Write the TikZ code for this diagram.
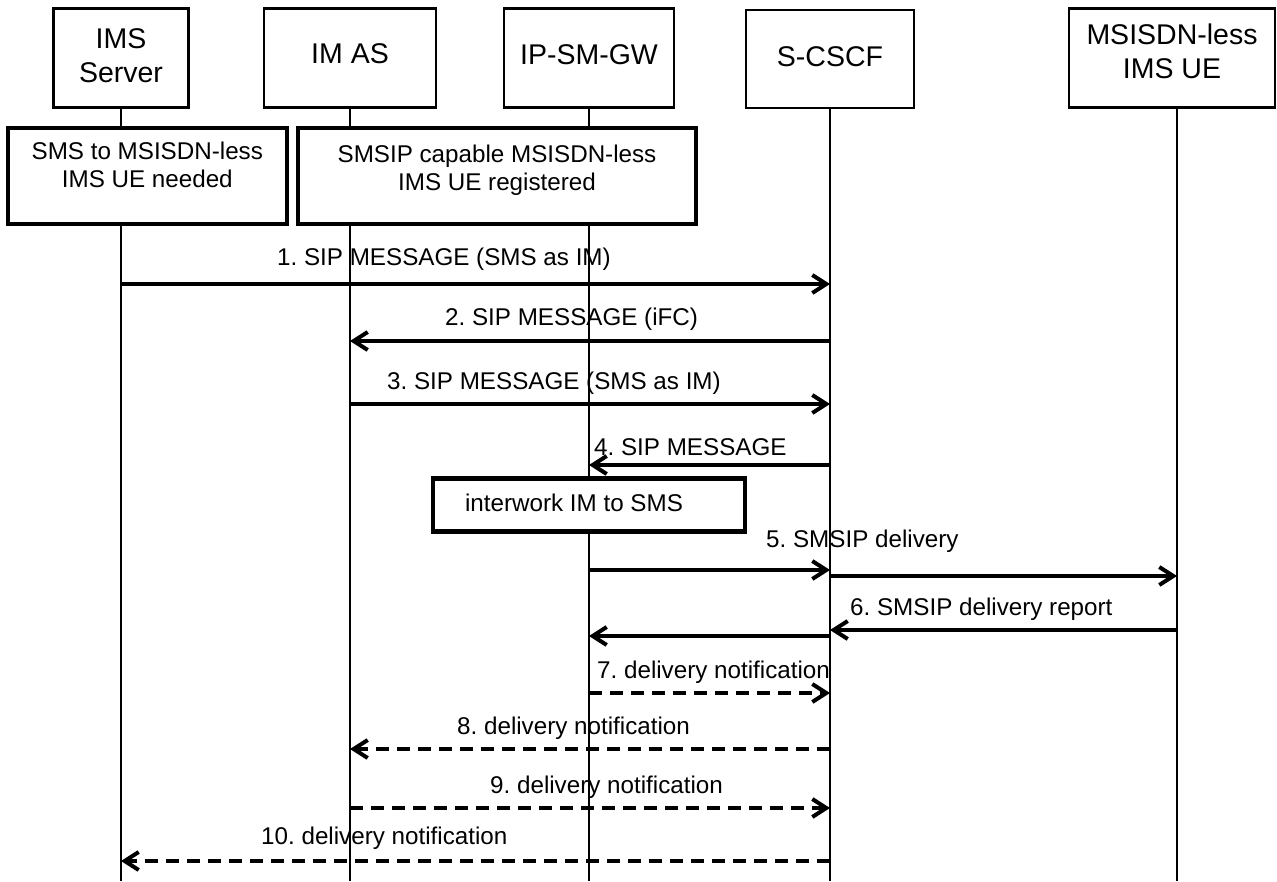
\documentclass[tikz,border=0pt]{standalone}
\usepackage{fontspec}
\setmainfont{Liberation Sans}
\usetikzlibrary{arrows.meta}
\frenchspacing

\newcommand\headsize{\fontsize{28.5}{34}\selectfont}
\newcommand\msgsize{\fontsize{24.2}{28}\selectfont}

\tikzset{
  head/.style={draw, line width=2.5pt, fill=white, minimum height=99pt,
    align=center, font=\headsize, inner sep=0pt},
  note/.style={draw, line width=4.5pt, fill=white, align=center,
    font=\msgsize, inner sep=0pt},
  life/.style={line width=2.3pt},
  msg/.style={line width=4pt, -{Straight Barb[length=14pt,width=18pt]}},
  reply/.style={msg, dash pattern=on 13pt off 8pt},
  lbl/.style={font=\msgsize, anchor=base west, inner sep=0pt},
}

\begin{document}
\begin{tikzpicture}[x=1pt, y=-1pt]
\useasboundingbox (0,0) rectangle (1277,881);

% lifeline heads
\node[head, minimum width=135pt, text depth=4.7pt]  (ims)   at (121,58)  {IMS\\Server};
\node[head, minimum width=172pt, text depth=8.7pt]  (imas)  at (350,58)  {IM AS};
\node[head, minimum width=170pt, text depth=7.7pt]  (gw)    at (589,58)  {IP-SM-GW};
\node[head, minimum width=168pt, minimum height=98pt, text depth=4.7pt] (scscf) at (830,59) {S-CSCF};
\node[head, minimum width=206pt, text depth=12.7pt] (ue)    at (1172,58) {MSISDN-less\\IMS UE};

% lifeline tops and bottoms
\coordinate (ue-top) at (1177,107.5);
\coordinate (ims-end)   at (ims.south   |- 0,881);
\coordinate (imas-end)  at (imas.south  |- 0,881);
\coordinate (gw-end)    at (gw.south    |- 0,881);
\coordinate (scscf-end) at (scscf.south |- 0,881);
\coordinate (ue-end)    at (ue-top      |- 0,881);

\draw[life] (ims.south)   -- (ims-end);
\draw[life] (imas.south)  -- (imas-end);
\draw[life] (gw.south)    -- (gw-end);
\draw[life] (scscf.south) -- (scscf-end);
\draw[life] (ue-top)      -- (ue-end);

% state boxes
\node[note, minimum width=279pt, minimum height=96pt, text depth=23.5pt] (needed) at (147.3,176)
  {SMS to MSISDN-less\\IMS UE needed};
\node[note, minimum width=398pt, minimum height=96pt, text depth=17.5pt] (registered) at (497,176)
  {SMSIP capable MSISDN-less\\IMS UE registered};
\node[note, minimum width=312pt, minimum height=53.4pt, text depth=4.5pt] (interwork) at (589.2,505)
  {interwork IM to SMS\hspace*{30.4pt}};

% message end points on the lifelines
\coordinate (m1a) at (ims.south   |- 0,284);
\coordinate (m1b) at (scscf.south |- 0,284);
\coordinate (m2a) at (scscf.south |- 0,341);
\coordinate (m2b) at (imas.south  |- 0,341);
\coordinate (m3a) at (imas.south  |- 0,404);
\coordinate (m3b) at (scscf.south |- 0,404);
\coordinate (m4a) at (scscf.south |- 0,465);
\coordinate (m4b) at (gw.south    |- 0,465);
\coordinate (m5a) at (gw.south    |- 0,570);
\coordinate (m5b) at (scscf.south |- 0,570);
\coordinate (m5c) at (scscf.south |- 0,576);
\coordinate (m5d) at (ue-top      |- 0,576);
\coordinate (m6a) at (ue-top      |- 0,630);
\coordinate (m6b) at (scscf.south |- 0,630);
\coordinate (m6c) at (scscf.south |- 0,636);
\coordinate (m6d) at (gw.south    |- 0,636);
\coordinate (m7a) at (gw.south    |- 0,693);
\coordinate (m7b) at (scscf.south |- 0,693);
\coordinate (m8a) at (scscf.south |- 0,749);
\coordinate (m8b) at (imas.south  |- 0,749);
\coordinate (m9a) at (imas.south  |- 0,808);
\coordinate (m9b) at (scscf.south |- 0,808);
\coordinate (m10a) at (scscf.south |- 0,861);
\coordinate (m10b) at (ims.south   |- 0,861);

% message labels
\node[lbl] (l1)  at (277,265) {1. SIP MESSAGE (SMS as IM)};
\node[lbl] (l2)  at (445,325) {2. SIP MESSAGE (iFC)};
\node[lbl] (l3)  at (387,389) {3. SIP MESSAGE (SMS as IM)};
\node[lbl] (l4)  at (594,455) {4. SIP MESSAGE};
\node[lbl] (l5)  at (766,547) {5. SMSIP delivery};
\node[lbl] (l6)  at (850,615) {6. SMSIP delivery report};
\node[lbl] (l7)  at (597,678) {7. delivery notification};
\node[lbl] (l8)  at (457,734) {8. delivery notification};
\node[lbl] (l9)  at (490,793) {9. delivery notification};
\node[lbl] (l10) at (261,844) {10. delivery notification};

% messages
\draw[msg]   (m1a) -- (m1b);
\draw[msg]   (m2a) -- (m2b);
\draw[msg]   (m3a) -- (m3b);
\draw[msg]   (m4a) -- (m4b);
\draw[msg]   (m5a) -- (m5b);
\draw[msg]   (m5c) -- (m5d);
\draw[msg]   (m6a) -- (m6b);
\draw[msg]   (m6c) -- (m6d);
\draw[reply] (m7a) -- (m7b);
\draw[reply] (m8a) -- (m8b);
\draw[reply] (m9a) -- (m9b);
\draw[reply] (m10a) -- (m10b);
\end{tikzpicture}
\end{document}
